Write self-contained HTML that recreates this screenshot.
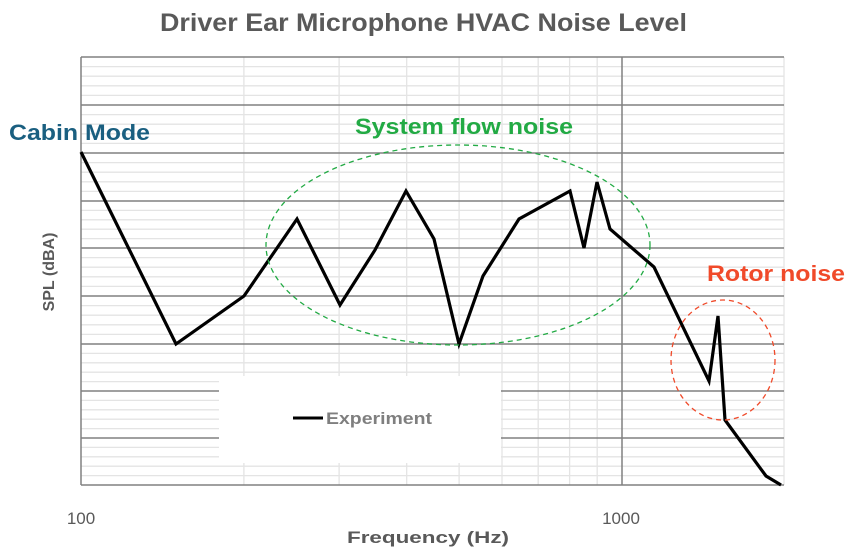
<!DOCTYPE html>
<html><head><style>body{margin:0;background:#fff}</style></head><body>
<svg width="856" height="551" xmlns="http://www.w3.org/2000/svg" font-family="Liberation Sans, sans-serif">
<rect width="856" height="551" fill="#fff"/>
<g stroke="#e4e4e4" stroke-width="1.3">
<path d="M81 66.6H784M81 76.2H784M81 85.8H784M81 95.4H784M81 114.6H784M81 124.2H784M81 133.8H784M81 143.4H784M81 162.6H784M81 172.2H784M81 181.8H784M81 191.4H784M81 210.4H784M81 219.8H784M81 229.2H784M81 238.6H784M81 257.6H784M81 267.2H784M81 276.8H784M81 286.4H784M81 305.6H784M81 315.2H784M81 324.8H784M81 334.4H784M81 353.4H784M81 362.8H784M81 372.2H784M81 381.6H784M81 400.4H784M81 409.8H784M81 419.2H784M81 428.6H784M81 447.4H784M81 456.8H784M81 466.2H784M81 475.6H784"/>
<path d="M243.9 57V485M339.1 57V485M406.7 57V485M459.1 57V485M502 57V485M538.2 57V485M569.6 57V485M597.2 57V485M784 57V485"/>
</g>
<g stroke="#808080" stroke-width="1.5">
<path d="M81 57H784M81 105H784M81 153H784M81 201H784M81 248H784M81 296H784M81 344H784M81 391H784M81 438H784M81 485H784M622 57V485M81 57V485"/>
</g>
<rect x="219" y="376" width="282" height="87" fill="#fff"/>
<polyline fill="none" stroke="#000" stroke-width="3.2" points="81,152 176,344 244,296 297,219 340,305 375,250 406,191 434,239 459,344 483,276 519,219 570,191 584,248 597,182 610,229 654,267 709,381 718,316 725,420 766,476 781,485"/>
<ellipse cx="458" cy="245" rx="192" ry="100" fill="none" stroke="#22aa44" stroke-width="1.3" stroke-dasharray="5,4"/>
<ellipse cx="723" cy="360" rx="52" ry="60" fill="none" stroke="#f04a2a" stroke-width="1.3" stroke-dasharray="5,4"/>
<line x1="293" x2="323" y1="418" y2="418" stroke="#000" stroke-width="3"/>
<text x="326" y="424" font-size="17" font-weight="bold" fill="#7f7f7f" textLength="106" lengthAdjust="spacingAndGlyphs">Experiment</text>
<text x="160" y="31" font-size="25" font-weight="bold" fill="#595959" textLength="527" lengthAdjust="spacingAndGlyphs">Driver Ear Microphone HVAC Noise Level</text>
<text x="9" y="140" font-size="22" font-weight="bold" fill="#1a5f80" textLength="141" lengthAdjust="spacingAndGlyphs">Cabin Mode</text>
<text x="355" y="134" font-size="22" font-weight="bold" fill="#22aa44" textLength="218" lengthAdjust="spacingAndGlyphs">System flow noise</text>
<text x="707" y="281" font-size="22" font-weight="bold" fill="#f04a2a" textLength="138" lengthAdjust="spacingAndGlyphs">Rotor noise</text>
<text x="81" y="524" font-size="17" fill="#595959" text-anchor="middle">100</text>
<text x="621" y="524" font-size="17" fill="#595959" text-anchor="middle">1000</text>
<text x="347" y="543" font-size="17" font-weight="bold" fill="#595959" textLength="162" lengthAdjust="spacingAndGlyphs">Frequency (Hz)</text>
<text transform="translate(54,272) rotate(-90)" font-size="16" font-weight="bold" fill="#595959" text-anchor="middle">SPL (dBA)</text>
</svg>
</body></html>
